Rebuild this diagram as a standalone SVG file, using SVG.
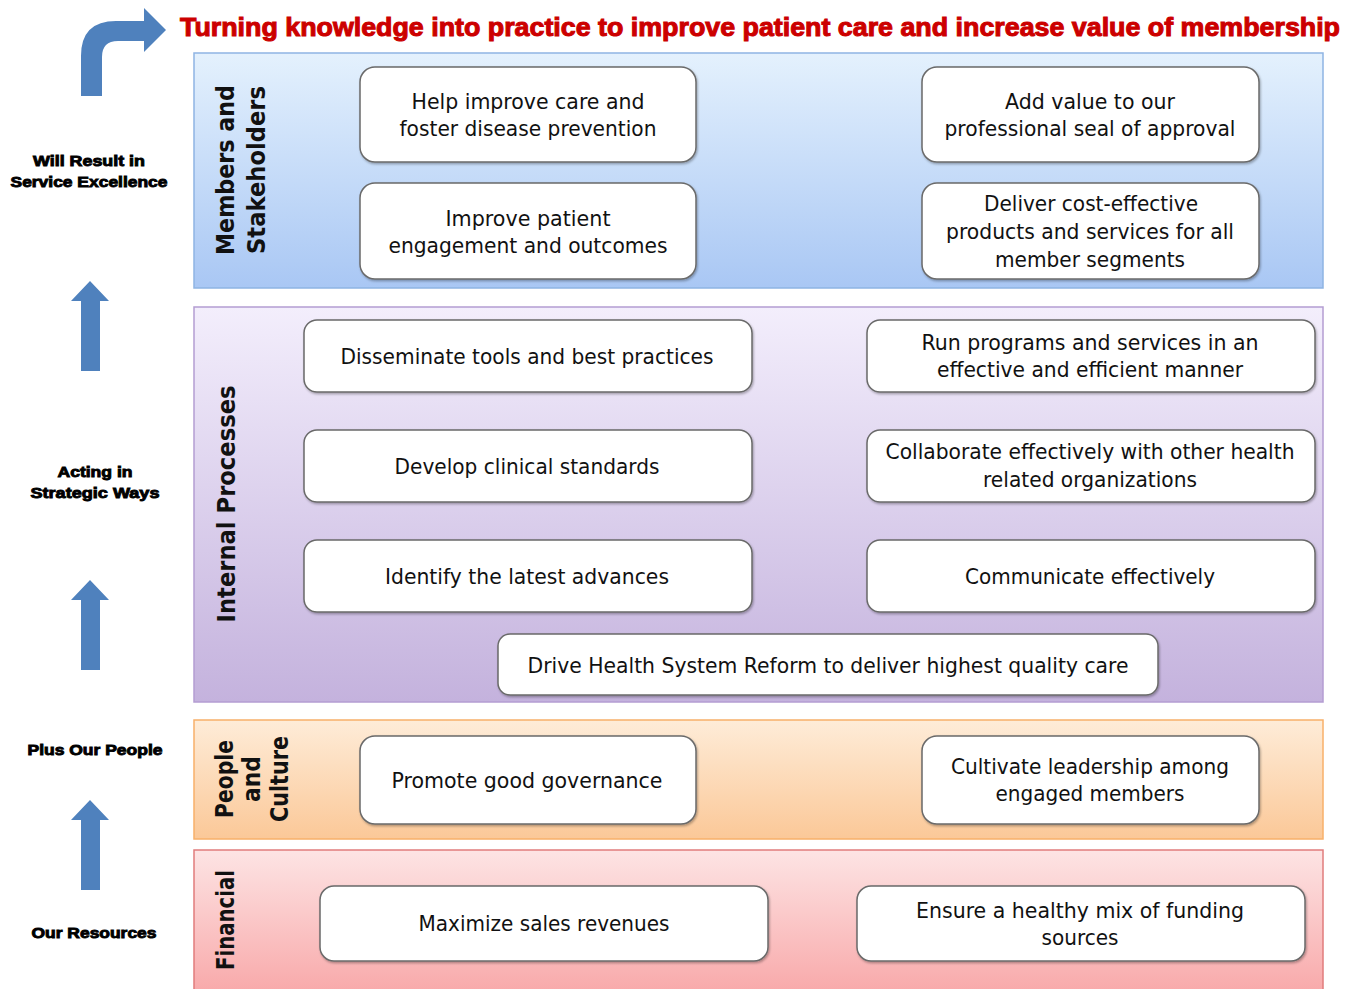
<svg xmlns="http://www.w3.org/2000/svg" width="1355" height="989" viewBox="0 0 1355 989">
<defs>
<linearGradient id="gBlue" x1="0" y1="0" x2="0" y2="1"><stop offset="0" stop-color="#e4f1fd"/><stop offset="1" stop-color="#a9c7f4"/></linearGradient>
<linearGradient id="gPurple" x1="0" y1="0" x2="0" y2="1"><stop offset="0" stop-color="#f3eefc"/><stop offset="1" stop-color="#c4b2dd"/></linearGradient>
<linearGradient id="gOrange" x1="0" y1="0" x2="0" y2="1"><stop offset="0" stop-color="#feecd8"/><stop offset="1" stop-color="#fbc898"/></linearGradient>
<linearGradient id="gRed" x1="0" y1="0" x2="0" y2="1"><stop offset="0" stop-color="#fde4e4"/><stop offset="1" stop-color="#f8a6a7"/></linearGradient>
<filter id="sh" x="-5%" y="-10%" width="110%" height="125%"><feDropShadow dx="1" dy="1.5" stdDeviation="1" flood-color="#000" flood-opacity="0.3"/></filter>
</defs>
<style>
.box{fill:#fff;stroke:#6a6a6a;stroke-width:1.5;filter:url(#sh)}
.t{font-family:"DejaVu Sans",Verdana,sans-serif;font-size:21px;fill:#111;text-anchor:middle}
.lbl{font-family:"DejaVu Sans",Verdana,sans-serif;font-size:24px;font-weight:bold;fill:#111;text-anchor:middle}
.side{font-family:"Liberation Sans",Arial,sans-serif;font-size:15px;font-weight:bold;fill:#000;stroke:#000;stroke-width:0.9;text-anchor:middle}
.arr{fill:#4f81bd}
.title{font-family:"Liberation Sans",Arial,sans-serif;font-size:25px;font-weight:bold;fill:#cc0000;stroke:#cc0000;stroke-width:1}
</style>
<rect width="1355" height="989" fill="#fff"/>

<g id="connectors">
<path class="arr" d="M81,96 L81,56 Q81,21 116,21 L144,21 L144,8 L166,30 L144,52 L144,41 L118,41 Q102,41 102,57 L102,96 Z"/>
<path class="arr" d="M81,371 L81,301 L71,301 L90,281 L109,301 L100,301 L100,371 Z"/>
<path class="arr" d="M81,670 L81,600 L71,600 L90,580 L109,600 L100,600 L100,670 Z"/>
<path class="arr" d="M81,890 L81,820 L71,820 L90,800 L109,820 L100,820 L100,890 Z"/>
</g>

<g id="title"><text class="title" x="180" y="36" textLength="1160" lengthAdjust="spacingAndGlyphs">Turning knowledge into practice to improve patient care and increase value of membership</text></g>

<g id="side-labels">
<text class="side" x="89" y="166" textLength="112" lengthAdjust="spacingAndGlyphs">Will Result in</text>
<text class="side" x="89" y="187" textLength="157" lengthAdjust="spacingAndGlyphs">Service Excellence</text>
<text class="side" x="95" y="477" textLength="75" lengthAdjust="spacingAndGlyphs">Acting in</text>
<text class="side" x="95" y="498" textLength="129" lengthAdjust="spacingAndGlyphs">Strategic Ways</text>
<text class="side" x="95" y="755" textLength="135" lengthAdjust="spacingAndGlyphs">Plus Our People</text>
<text class="side" x="94" y="938" textLength="125" lengthAdjust="spacingAndGlyphs">Our Resources</text>
</g>

<g id="panel-members">
<rect x="194" y="53" width="1129" height="235" fill="url(#gBlue)" stroke="#8eb4e3" stroke-width="1.5"/>
<text class="lbl" transform="translate(234,170) rotate(-90)" textLength="170" lengthAdjust="spacingAndGlyphs">Members and</text>
<text class="lbl" transform="translate(265,170) rotate(-90)" textLength="168" lengthAdjust="spacingAndGlyphs">Stakeholders</text>
</g>
<g id="panel-internal">
<rect x="194" y="307" width="1129" height="395" fill="url(#gPurple)" stroke="#b49dd2" stroke-width="1.5"/>
<text class="lbl" transform="translate(235,504) rotate(-90)" textLength="237" lengthAdjust="spacingAndGlyphs">Internal Processes</text>
</g>
<g id="panel-people">
<rect x="194" y="720" width="1129" height="119" fill="url(#gOrange)" stroke="#f8b06a" stroke-width="1.5"/>
<text class="lbl" transform="translate(233,779) rotate(-90)" textLength="78" lengthAdjust="spacingAndGlyphs">People</text>
<text class="lbl" transform="translate(260,779) rotate(-90)" textLength="46" lengthAdjust="spacingAndGlyphs">and</text>
<text class="lbl" transform="translate(288,779) rotate(-90)" textLength="86" lengthAdjust="spacingAndGlyphs">Culture</text>
</g>
<g id="panel-financial">
<rect x="194" y="850" width="1129" height="150" fill="url(#gRed)" stroke="#e17c7c" stroke-width="1.5"/>
<text class="lbl" transform="translate(234,920) rotate(-90)" textLength="100" lengthAdjust="spacingAndGlyphs">Financial</text>
</g>

<g id="n1"><rect class="box" x="360" y="67" width="336" height="95" rx="15"/>
<text class="t" x="528" y="109" textLength="233" lengthAdjust="spacingAndGlyphs">Help improve care and</text>
<text class="t" x="528" y="136" textLength="257" lengthAdjust="spacingAndGlyphs">foster disease prevention</text></g>
<g id="n2"><rect class="box" x="922" y="67" width="337" height="95" rx="15"/>
<text class="t" x="1090" y="109" textLength="170" lengthAdjust="spacingAndGlyphs">Add value to our</text>
<text class="t" x="1090" y="136" textLength="291" lengthAdjust="spacingAndGlyphs">professional seal of approval</text></g>
<g id="n3"><rect class="box" x="360" y="183" width="336" height="96" rx="15"/>
<text class="t" x="528" y="226" textLength="165" lengthAdjust="spacingAndGlyphs">Improve patient</text>
<text class="t" x="528" y="253" textLength="279" lengthAdjust="spacingAndGlyphs">engagement and outcomes</text></g>
<g id="n4"><rect class="box" x="922" y="183" width="337" height="96" rx="15"/>
<text class="t" x="1091" y="211" textLength="214" lengthAdjust="spacingAndGlyphs">Deliver cost-effective</text>
<text class="t" x="1090" y="239" textLength="288" lengthAdjust="spacingAndGlyphs">products and services for all</text>
<text class="t" x="1090" y="267" textLength="190" lengthAdjust="spacingAndGlyphs">member segments</text></g>

<g id="n5"><rect class="box" x="304" y="320" width="448" height="72" rx="13"/>
<text class="t" x="527" y="364" textLength="373" lengthAdjust="spacingAndGlyphs">Disseminate tools and best practices</text></g>
<g id="n6"><rect class="box" x="867" y="320" width="448" height="72" rx="13"/>
<text class="t" x="1090" y="350" textLength="337" lengthAdjust="spacingAndGlyphs">Run programs and services in an</text>
<text class="t" x="1090" y="377" textLength="306" lengthAdjust="spacingAndGlyphs">effective and efficient manner</text></g>
<g id="n7"><rect class="box" x="304" y="430" width="448" height="72" rx="13"/>
<text class="t" x="527" y="474" textLength="265" lengthAdjust="spacingAndGlyphs">Develop clinical standards</text></g>
<g id="n8"><rect class="box" x="867" y="430" width="448" height="72" rx="13"/>
<text class="t" x="1090" y="459" textLength="409" lengthAdjust="spacingAndGlyphs">Collaborate effectively with other health</text>
<text class="t" x="1090" y="487" textLength="214" lengthAdjust="spacingAndGlyphs">related organizations</text></g>
<g id="n9"><rect class="box" x="304" y="540" width="448" height="72" rx="13"/>
<text class="t" x="527" y="584" textLength="284" lengthAdjust="spacingAndGlyphs">Identify the latest advances</text></g>
<g id="n10"><rect class="box" x="867" y="540" width="448" height="72" rx="13"/>
<text class="t" x="1090" y="584" textLength="250" lengthAdjust="spacingAndGlyphs">Communicate effectively</text></g>
<g id="n11"><rect class="box" x="498" y="634" width="660" height="61" rx="12"/>
<text class="t" x="828" y="673" textLength="601" lengthAdjust="spacingAndGlyphs">Drive Health System Reform to deliver highest quality care</text></g>

<g id="n12"><rect class="box" x="360" y="736" width="336" height="88" rx="15"/>
<text class="t" x="527" y="788" textLength="271" lengthAdjust="spacingAndGlyphs">Promote good governance</text></g>
<g id="n13"><rect class="box" x="922" y="736" width="337" height="88" rx="15"/>
<text class="t" x="1090" y="774" textLength="278" lengthAdjust="spacingAndGlyphs">Cultivate leadership among</text>
<text class="t" x="1090" y="801" textLength="189" lengthAdjust="spacingAndGlyphs">engaged members</text></g>

<g id="n14"><rect class="box" x="320" y="886" width="448" height="75" rx="14"/>
<text class="t" x="544" y="931" textLength="251" lengthAdjust="spacingAndGlyphs">Maximize sales revenues</text></g>
<g id="n15"><rect class="box" x="857" y="886" width="448" height="75" rx="14"/>
<text class="t" x="1080" y="918" textLength="328" lengthAdjust="spacingAndGlyphs">Ensure a healthy mix of funding</text>
<text class="t" x="1080" y="945" textLength="77" lengthAdjust="spacingAndGlyphs">sources</text></g>
</svg>
